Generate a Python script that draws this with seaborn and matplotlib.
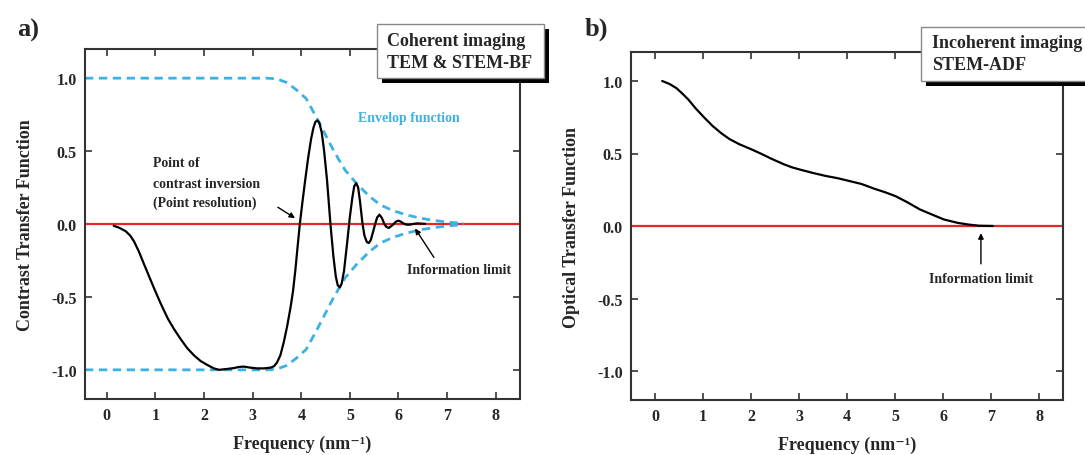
import numpy as np
import pandas as pd
import matplotlib
matplotlib.use("Agg")
import matplotlib.pyplot as plt
from matplotlib.patches import Rectangle
import seaborn as sns

# ---------------- data ----------------
ctf_freq = [0.14, 0.25, 0.39, 0.48, 0.56, 0.66, 0.77, 0.87, 0.97, 1.10, 1.25, 1.38,
            1.52, 1.65, 1.79, 1.93, 2.07, 2.20, 2.31, 2.45, 2.61, 2.72, 2.82, 2.95,
            3.09, 3.23, 3.37, 3.44, 3.50, 3.57, 3.64, 3.71, 3.78, 3.83, 3.88, 3.92,
            3.97, 4.02, 4.08, 4.14, 4.20, 4.25, 4.29, 4.33, 4.37, 4.42, 4.47, 4.53,
            4.60, 4.66, 4.71, 4.75, 4.79, 4.83, 4.88, 4.94, 5.00, 5.05, 5.09, 5.13,
            5.17, 5.21, 5.26, 5.30, 5.35, 5.39, 5.43, 5.48, 5.52, 5.56, 5.61, 5.66,
            5.71, 5.75, 5.80, 5.85, 5.90, 5.95, 6.00, 6.05, 6.10, 6.16, 6.22, 6.30,
            6.38, 6.45, 6.55]
ctf_val = [-0.012, -0.025, -0.05, -0.08, -0.12, -0.19, -0.28, -0.36, -0.44, -0.54, -0.646, -0.72,
           -0.79, -0.85, -0.90, -0.94, -0.967, -0.99, -1.0, -0.995, -0.988, -0.98, -0.978, -0.985,
           -0.99, -0.99, -0.985, -0.975, -0.95, -0.90, -0.81, -0.70, -0.57, -0.46, -0.31, -0.17,
           0.0, 0.14, 0.30, 0.45, 0.58, 0.66, 0.70, 0.71, 0.695, 0.63, 0.50, 0.30,
           0.0, -0.22, -0.36, -0.42, -0.435, -0.41, -0.32, -0.14, 0.05, 0.18, 0.26, 0.28,
           0.25, 0.15, 0.0, -0.08, -0.125, -0.13, -0.11, -0.05, 0.0, 0.045, 0.064, 0.04,
           0.0, -0.02, -0.027, -0.015, 0.0, 0.017, 0.023, 0.016, 0.004, -0.004, -0.005, 0.0,
           0.004, 0.003, 0.001]

env_freq = [-0.45, 3.30, 3.50, 3.70, 3.90, 4.10, 4.33, 4.50, 4.67, 4.90, 5.13, 5.40,
            5.63, 5.90, 6.17, 6.45, 6.70, 7.00, 7.35]
env_upper = [1.0, 1.0, 0.995, 0.97, 0.92, 0.86, 0.72, 0.61, 0.50, 0.37, 0.28, 0.19,
             0.13, 0.09, 0.062, 0.04, 0.026, 0.013, 0.004]
env_lower = [-v for v in env_upper]

otf_freq = [0.15, 0.30, 0.45, 0.58, 0.70, 0.85, 1.02, 1.20, 1.38, 1.55, 1.75, 2.00,
            2.20, 2.45, 2.69, 2.85, 3.01, 3.30, 3.56, 3.80, 3.99, 4.30, 4.57, 4.80,
            5.01, 5.25, 5.52, 5.80, 6.02, 6.30, 6.53, 6.75, 7.04]
otf_val = [1.0, 0.98, 0.95, 0.91, 0.87, 0.81, 0.75, 0.69, 0.64, 0.60, 0.565, 0.53,
           0.50, 0.46, 0.425, 0.405, 0.39, 0.365, 0.345, 0.33, 0.315, 0.29, 0.257, 0.232,
           0.206, 0.165, 0.114, 0.075, 0.045, 0.022, 0.01, 0.002, 0.0]

x_ticks = [0, 1, 2, 3, 4, 5, 6, 7, 8]
y_ticks = [-1.0, -0.5, 0.0, 0.5, 1.0]
y_ticklabels = ["-1.0", "-0.5", "0.0", "0.5", "1.0"]

# ---------------- style ----------------
sns.set_theme(style="ticks")
plt.rcParams["font.family"] = ["Liberation Serif", "DejaVu Serif"]
plt.rcParams["font.weight"] = "bold"

W, H = 1085, 456
fig = plt.figure(figsize=(W / 100, H / 100), dpi=100)
fig.patch.set_facecolor("white")

def px_axes(l, t, r, b):
    return fig.add_axes([l / W, 1 - b / H, (r - l) / W, (b - t) / H])

ax_a = px_axes(85, 50, 520, 400)
ax_b = px_axes(631, 53, 1063, 401)

CYAN = "#3cb2e2"
RED = "#e8262a"
SPINE = "#333333"

def style_axes(ax, ylabel):
    ax.set_xlim(-0.45, 8.5)
    ax.set_ylim(-1.2, 1.2)
    ax.set_xticks(x_ticks)
    ax.set_xticklabels([str(t) for t in x_ticks])
    ax.set_yticks(y_ticks)
    ax.set_yticklabels(y_ticklabels)
    ax.tick_params(direction="in", length=5, width=1.2, top=True, right=True,
                   labelsize=11.5, color=SPINE, pad=6)
    for s in ax.spines.values():
        s.set_color(SPINE)
        s.set_linewidth(1.5)
    for lab in ax.get_xticklabels() + ax.get_yticklabels():
        lab.set_fontweight("bold")
    ax.set_xlabel("Frequency (nm\u207b\u00b9)", fontsize=13, fontweight="bold", labelpad=8)
    ax.set_ylabel(ylabel, fontsize=13, fontweight="bold", labelpad=12)
    ax.set_facecolor("white")
    ax.grid(False)

line_kw = dict(estimator=None, sort=False, solid_joinstyle="round", solid_capstyle="round")

# ---------------- panel a ----------------
ax_a.axhline(0, color=RED, lw=1.6, zorder=1)
df_env = pd.DataFrame({"f": env_freq, "up": env_upper, "lo": env_lower})
sns.lineplot(data=df_env, x="f", y="up", ax=ax_a, color=CYAN, lw=2,
             linestyle=(0, (3, 2)), estimator=None, sort=False, zorder=2)
sns.lineplot(data=df_env, x="f", y="lo", ax=ax_a, color=CYAN, lw=2,
             linestyle=(0, (3, 2)), estimator=None, sort=False, zorder=2)
df_ctf = pd.DataFrame({"f": ctf_freq, "v": ctf_val})
sns.lineplot(data=df_ctf, x="f", y="v", ax=ax_a, color="black", lw=1.6, zorder=3, **line_kw)
style_axes(ax_a, "Contrast Transfer Function")

ax_a.text(5.17, 0.73, "Envelop function", color=CYAN, fontsize=10, fontweight="bold",
          va="center", ha="left")
ax_a.text(0.94, 0.42, "Point of", fontsize=10, fontweight="bold", va="center", ha="left")
ax_a.text(0.94, 0.28, "contrast inversion", fontsize=10, fontweight="bold", va="center", ha="left")
ax_a.text(0.94, 0.15, "(Point resolution)", fontsize=10, fontweight="bold", va="center", ha="left")
ax_a.annotate("", xy=(3.92, 0.03), xytext=(3.47, 0.125),
              arrowprops=dict(arrowstyle="-|>", color="black", lw=1, mutation_scale=8))
ax_a.text(6.17, -0.31, "Information limit", fontsize=10, fontweight="bold", va="center", ha="left")
ax_a.annotate("", xy=(6.31, -0.015), xytext=(6.76, -0.245),
              arrowprops=dict(arrowstyle="-|>", color="black", lw=1, mutation_scale=8))

# ---------------- panel b ----------------
ax_b.axhline(0, color=RED, lw=1.6, zorder=1)
df_otf = pd.DataFrame({"f": otf_freq, "v": otf_val})
sns.lineplot(data=df_otf, x="f", y="v", ax=ax_b, color="black", lw=1.6, zorder=3, **line_kw)
style_axes(ax_b, "Optical Transfer Function")
ax_b.set_xlim(-0.5, 8.5)
ax_b.text(6.79, -0.36, "Information limit", fontsize=10, fontweight="bold", va="center", ha="center")
ax_b.annotate("", xy=(6.79, -0.03), xytext=(6.79, -0.28),
              arrowprops=dict(arrowstyle="-|>", color="black", lw=1, mutation_scale=8))

# ---------------- boxes and panel letters ----------------
def px_rect(l, t, r, b, **kw):
    rect = Rectangle((l / W, 1 - b / H), (r - l) / W, (b - t) / H,
                     transform=fig.transFigure, **kw)
    fig.add_artist(rect)

px_rect(382, 30, 549, 84, facecolor="black", edgecolor="none", zorder=10)
px_rect(377, 25, 544, 79, facecolor="white", edgecolor="#888888", lw=1, zorder=11)
fig.text(387 / W, 1 - 42 / H, "Coherent imaging", fontsize=13, fontweight="bold",
         va="center", ha="left", zorder=12)
fig.text(387 / W, 1 - 64 / H, "TEM & STEM-BF", fontsize=13, fontweight="bold",
         va="center", ha="left", zorder=12)

px_rect(926, 33, 1100, 87, facecolor="black", edgecolor="none", zorder=10)
px_rect(921, 28, 1100, 82, facecolor="white", edgecolor="#888888", lw=1, zorder=11)
fig.text(932 / W, 1 - 44 / H, "Incoherent imaging", fontsize=13, fontweight="bold",
         va="center", ha="left", zorder=12)
fig.text(932 / W, 1 - 66 / H, "STEM-ADF", fontsize=13, fontweight="bold",
         va="center", ha="left", zorder=12)

fig.text(17 / W, 1 - 30 / H, "a)", fontsize=19, fontweight="bold", va="center", ha="left")
fig.text(585 / W, 1 - 29 / H, "b)", fontsize=19, fontweight="bold", va="center", ha="left")

fig.savefig("out.png", dpi=100, facecolor="white")
